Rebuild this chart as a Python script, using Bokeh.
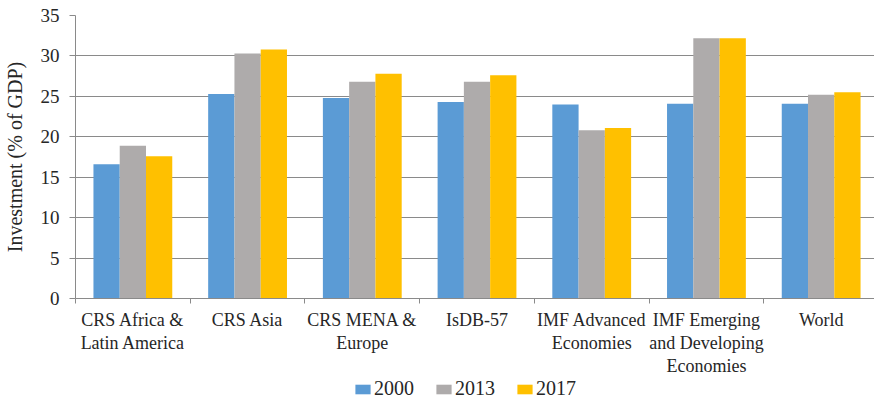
from bokeh.plotting import figure
from bokeh.models import (ColumnDataSource, Range1d, FixedTicker, Legend, LegendItem)
from bokeh.layouts import column
from bokeh.transform import dodge
from bokeh.embed import file_html
from bokeh.resources import INLINE

categories = ["CRS Africa &\nLatin America", "CRS Asia", "CRS MENA &\nEurope", "IsDB-57",
              "IMF Advanced\nEconomies", "IMF Emerging\nand Developing\nEconomies", "World"]
series_names = ["2000", "2013", "2017"]
v2000 = [16.6, 25.3, 24.8, 24.3, 24.0, 24.1, 24.1]
v2013 = [18.9, 30.3, 26.8, 26.8, 20.8, 32.2, 25.2]
v2017 = [17.6, 30.8, 27.8, 27.6, 21.1, 32.2, 25.5]
y_ticks = [0, 5, 10, 15, 20, 25, 30, 35]

colors = ["#5B9BD5", "#AEABAB", "#FFC000"]
FONT = "Liberation Serif"
TXT = "#262626"

centers = [i + 0.5 for i in range(len(categories))]
source = ColumnDataSource(dict(x=centers, v2000=v2000, v2013=v2013, v2017=v2017))

p = figure(width=874, height=378, output_backend="svg", toolbar_location=None,
           x_range=Range1d(0, 6.965), y_range=Range1d(0, 35),
           min_border_left=73, min_border_right=0, min_border_top=15, min_border_bottom=73)

bw = 0.229
for k, (name, col) in enumerate(zip(series_names, ["v2000", "v2013", "v2017"])):
    p.vbar(x=dodge("x", (k - 1) * bw, range=p.x_range), top=col, width=bw,
           source=source, fill_color=colors[k], line_color=None)

p.outline_line_color = None
p.background_fill_color = "white"
p.xgrid.visible = False
p.ygrid.grid_line_color = "#8a8a8a"
p.ygrid.grid_line_width = 1

# y axis
ya = p.yaxis[0]
ya.ticker = FixedTicker(ticks=y_ticks, minor_ticks=[])
ya.axis_line_color = "#8a8a8a"
ya.major_tick_line_color = "#8a8a8a"
ya.major_tick_out = 6
ya.major_tick_in = 0
ya.minor_tick_line_color = None
ya.major_label_standoff = 10
ya.major_label_text_font = FONT
ya.major_label_text_font_size = "19px"
ya.major_label_text_color = TXT
ya.axis_label = "Investment (% of GDP)"
ya.axis_label_text_font = FONT
ya.axis_label_text_font_size = "20px"
ya.axis_label_text_font_style = "normal"
ya.axis_label_text_color = TXT
ya.axis_label_standoff = 12

# x axis
xa = p.xaxis[0]
xa.ticker = FixedTicker(ticks=centers, minor_ticks=list(range(len(categories) + 1)))
xa.major_label_overrides = {c: lab for c, lab in zip(centers, categories)}
xa.axis_line_color = "#8a8a8a"
xa.major_tick_line_color = None
xa.major_tick_out = 0
xa.major_tick_in = 0
xa.minor_tick_line_color = "#8a8a8a"
xa.minor_tick_out = 5
xa.minor_tick_in = 0
xa.major_label_standoff = 6
xa.major_label_text_font = FONT
xa.major_label_text_font_size = "18px"
xa.major_label_text_color = TXT
xa.major_label_text_line_height = 1.15

# legend strip (swatch renderers sit outside the visible range)
lf = figure(width=874, height=24, output_backend="svg", toolbar_location=None,
            x_range=Range1d(0, 1), y_range=Range1d(0, 1),
            x_axis_location=None, y_axis_location=None,
            min_border_left=0, min_border_right=0, min_border_top=0, min_border_bottom=0)
lf.grid.visible = False
lf.outline_line_color = None
swatches = []
for k in range(len(series_names)):
    swatches.append(lf.vbar(x=[0.5], top=[-5], bottom=[-6], width=0.01,
                            fill_color=colors[k], line_color=None))

legend = Legend(items=[LegendItem(label=n, renderers=[r]) for n, r in zip(series_names, swatches)],
                orientation="horizontal", location=(278, 2),
                border_line_color=None, background_fill_alpha=0,
                glyph_width=19, glyph_height=12, label_standoff=2, spacing=20,
                padding=0, margin=0, label_height=20,
                label_text_font=FONT, label_text_font_size="20px", label_text_color=TXT)
lf.add_layout(legend, "center")

layout = column(p, lf, spacing=0)
open("out.html", "w").write(file_html(layout, INLINE))
